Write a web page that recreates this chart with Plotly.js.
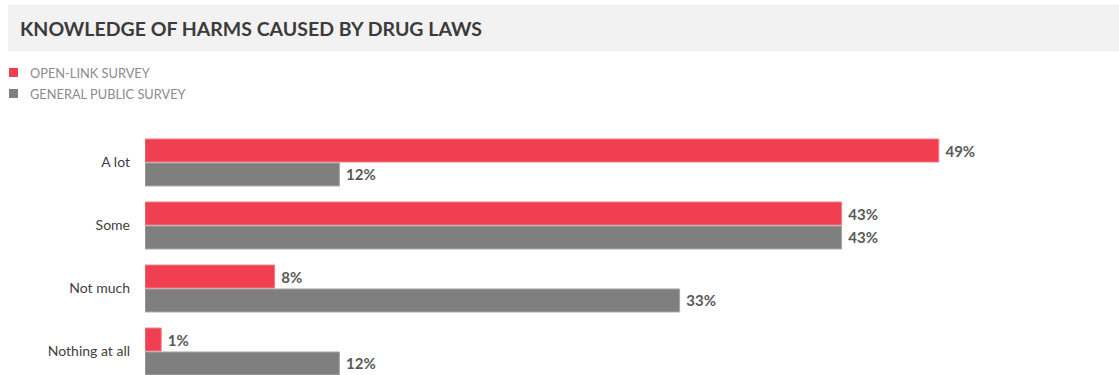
<!DOCTYPE html>
<html>
<head>
<meta charset="utf-8">
<script src="https://cdn.plot.ly/plotly-3.0.1.min.js"></script>
<style>html,body{margin:0;padding:0;background:#fff;}#chart{width:1119px;height:375px;}</style>
</head>
<body>
<div id="chart"></div>
<script>
var categories = ["A lot", "Some", "Not much", "Nothing at all"];
var openLink = [49, 43, 8, 1];
var generalPublic = [12, 43, 33, 12];
var seriesNames = ["OPEN-LINK SURVEY", "GENERAL PUBLIC SURVEY"];
var seriesColors = ["#F03F51", "#7F7F7F"];

var W = 1119, H = 375, ML = 145, MT = 131;
var PW = W - ML, PH = H - MT;
function px(x){ return (x - ML) / PW; }
function py(y){ return (H - y) / PH; }

var FONT = "Lato, 'Open Sans', sans-serif";
var labelFont = {family: FONT, size: 15, color: "#595959", weight: 700};

var traces = [
  {type: "bar", orientation: "h", name: seriesNames[0], y: categories, x: openLink,
   marker: {color: seriesColors[0], line: {color: "#F47A86", width: 1}},
   text: openLink.map(function(v){return "\u00a0" + v + "%";}), textposition: "outside",
   textfont: labelFont, cliponaxis: false, hoverinfo: "x+y", showlegend: false},
  {type: "bar", orientation: "h", name: seriesNames[1], y: categories, x: generalPublic,
   marker: {color: seriesColors[1], line: {color: "#A6A6A6", width: 1}},
   text: generalPublic.map(function(v){return "\u00a0" + v + "%";}), textposition: "outside",
   textfont: labelFont, cliponaxis: false, hoverinfo: "x+y", showlegend: false}
];

var legendRows = [72.5, 93.5];
var shapes = [
  {type: "rect", xref: "paper", yref: "paper", x0: px(8), x1: px(W), y0: py(51), y1: py(5),
   fillcolor: "#f2f2f2", line: {width: 0}, layer: "below"}
];
var annotations = [];
seriesNames.forEach(function(name, i){
  var cy = legendRows[i];
  shapes.push({type: "rect", xref: "paper", yref: "paper", x0: px(9), x1: px(18),
               y0: py(cy + 4.5), y1: py(cy - 4.5), fillcolor: seriesColors[i], line: {width: 0}});
  annotations.push({xref: "paper", yref: "paper", x: px(28), y: py(cy + 0.5), xanchor: "left",
                    yanchor: "middle", showarrow: false, text: name,
                    font: {family: FONT, size: 12.8, color: "#8c8c8c"}});
});

var layout = {
  width: W, height: H,
  margin: {l: ML, r: 0, t: MT, b: 0, pad: 0},
  paper_bgcolor: "#ffffff", plot_bgcolor: "#ffffff",
  barmode: "group", bargap: 0.24, bargroupgap: 0.04,
  font: {family: FONT},
  title: {text: "KNOWLEDGE OF HARMS CAUSED BY DRUG LAWS", xref: "container", yref: "container",
          x: 20 / W, xanchor: "left", y: 1 - 29 / H, yanchor: "middle",
          font: {family: FONT, size: 19.5, color: "#3b3b3b", weight: 700}},
  xaxis: {range: [0, PW / 16.2], showgrid: false, zeroline: false, showticklabels: false,
          showline: false, fixedrange: true},
  yaxis: {type: "category", categoryorder: "array", categoryarray: categories,
          range: [(H - 162.5) / 63, -0.5], showgrid: false, zeroline: false, showline: false,
          ticks: "", ticklabelstandoff: 14,
          tickfont: {family: FONT, size: 14, color: "#404040"}},
  showlegend: false,
  shapes: shapes,
  annotations: annotations
};

Plotly.newPlot("chart", traces, layout, {displayModeBar: false, staticPlot: true});
</script>
</body>
</html>
